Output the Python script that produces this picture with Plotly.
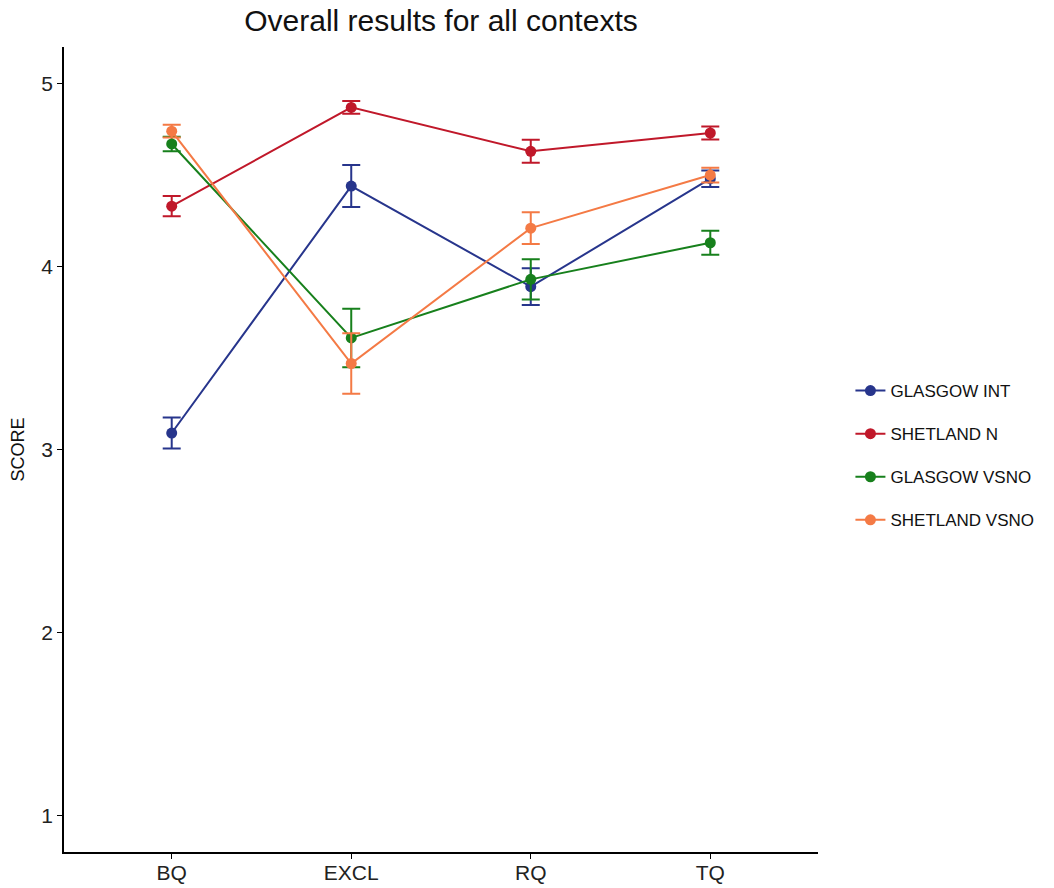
import plotly.graph_objects as go

categories = ["BQ", "EXCL", "RQ", "TQ"]
series_names = ["GLASGOW INT", "SHETLAND N", "GLASGOW VSNO", "SHETLAND VSNO"]
glasgow_int = [3.09, 4.44, 3.89, 4.48]
glasgow_int_err = [0.085, 0.115, 0.10, 0.045]
shetland_n = [4.33, 4.87, 4.63, 4.73]
shetland_n_err = [0.055, 0.035, 0.063, 0.035]
glasgow_vsno = [4.67, 3.61, 3.93, 4.13]
glasgow_vsno_err = [0.04, 0.16, 0.11, 0.065]
shetland_vsno = [4.74, 3.47, 4.21, 4.50]
shetland_vsno_err = [0.035, 0.165, 0.087, 0.04]
y_ticks = [1, 2, 3, 4, 5]

colors = ["#27358C", "#C0182A", "#17801C", "#F47A45"]
values = [glasgow_int, shetland_n, glasgow_vsno, shetland_vsno]
errors = [glasgow_int_err, shetland_n_err, glasgow_vsno_err, shetland_vsno_err]

fig = go.Figure()
for i, (name, v, e, c) in enumerate(zip(series_names, values, errors, colors)):
    fig.add_trace(go.Scatter(
        x=list(range(len(categories))), y=v, name=name, mode="lines+markers",
        line=dict(color=c, width=2), marker=dict(color=c, size=11),
        error_y=dict(type="data", array=e, visible=True, color=c, thickness=2, width=9),
        legendgroup=f"g{i}",
    ))

fig.update_layout(
    width=1054, height=888,
    paper_bgcolor="white", plot_bgcolor="white",
    margin=dict(l=64, r=236, t=47, b=36),
    font=dict(family="Liberation Sans, Arial, sans-serif", color="#222222"),
    title=dict(text="Overall results for all contexts", x=(64 + 818) / 2 / 1054, xanchor="center",
               y=1 - 20 / 888, yanchor="middle", font=dict(size=30, color="#111111")),
    showlegend=True,
    legend=dict(x=1.043, xanchor="left", y=0.5 - 6 / 805, yanchor="middle", font=dict(size=17, color="#111111"),
                tracegroupgap=18, bgcolor="rgba(0,0,0,0)"),
)
fig.update_xaxes(
    range=[-0.6, 3.6], tickmode="array", tickvals=list(range(len(categories))), ticktext=categories,
    showline=True, linecolor="black", linewidth=1.5, ticks="outside", ticklen=5, tickcolor="black",
    showgrid=False, zeroline=False, tickfont=dict(size=21, color="#222222"), automargin=False,
    ticklabelstandoff=-4,
)
fig.update_yaxes(
    range=[0.8, 5.2], tickvals=y_ticks, showline=True, linecolor="black", linewidth=1.5,
    ticks="outside", ticklen=5, tickcolor="black", showgrid=False, zeroline=False,
    tickfont=dict(size=21, color="#222222"), automargin=False,
    title=dict(text="SCORE", font=dict(size=18, color="#111111"), standoff=12),
)
fig.write_html("out.html")
